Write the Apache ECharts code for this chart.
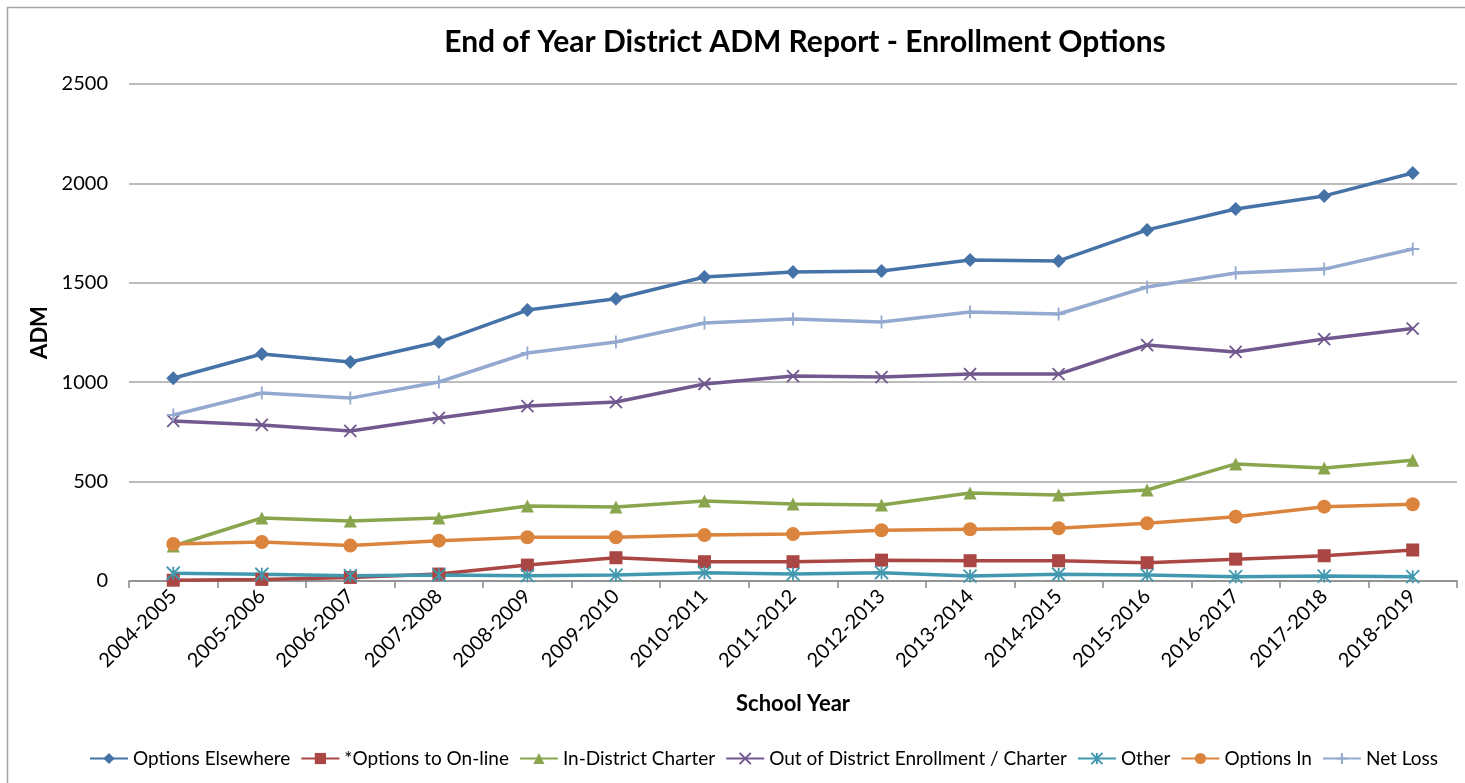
<!DOCTYPE html>
<html>
<head>
<meta charset="utf-8">
<script src="https://cdn.jsdelivr.net/npm/echarts@6/dist/echarts.min.js"></script>
<style>
html,body{margin:0;padding:0;background:#fff;}
#chart{width:1465px;height:783px;}
</style>
</head>
<body>
<div id="chart"></div>
<script>
const categories = ["2004-2005","2005-2006","2006-2007","2007-2008","2008-2009","2009-2010","2010-2011","2011-2012","2012-2013","2013-2014","2014-2015","2015-2016","2016-2017","2017-2018","2018-2019"];
const optionsElsewhere = [1020,1142,1102,1202,1363,1420,1529,1554,1559,1615,1610,1766,1871,1937,2052];
const optionsOnline = [4,8,18,35,80,117,97,97,105,102,102,92,110,127,156];
const inDistrictCharter = [176,317,302,317,377,372,402,387,382,443,433,458,589,568,607];
const outOfDistrict = [805,785,755,820,880,900,991,1031,1026,1041,1041,1187,1152,1217,1270];
const other = [39,34,27,30,27,30,42,35,42,25,34,30,22,25,22];
const optionsIn = [186,196,178,203,220,220,231,236,255,260,265,290,323,374,386];
const netLoss = [835,946,920,1001,1147,1202,1298,1318,1303,1353,1343,1479,1549,1569,1670];
const yTicks = [0,500,1000,1500,2000,2500];

const FONT = 'Lato, "Open Sans", sans-serif';
const crossPath = 'path://M0,0 L10,10 M10,0 L0,10';
const asteriskPath = 'path://M0,0 L10,10 M10,0 L0,10 M5,0 L5,10';
const plusPath = 'path://M5,0 L5,10 M0,5 L10,5';

function mk(name, data, color, symbol, size, stroke){
  const s = {
    name, type:'line', data,
    symbol, symbolSize:size,
    lineStyle:{color, width:3.5},
    itemStyle:{color},
    emphasis:{disabled:true},
    animation:false
  };
  if(stroke){
    s.itemStyle = {color:'none', borderColor:color, borderWidth:stroke};
  }
  return s;
}

const chart = echarts.init(document.getElementById('chart'));
chart.setOption({
  animation:false,
  backgroundColor:'#fff',
  graphic:[{type:'rect',shape:{x:7.5,y:7.5,width:1600,height:800},style:{fill:'none',stroke:'#a6a6a6',lineWidth:1.5},silent:true}],
  title:{text:'End of Year District ADM Report - Enrollment Options',left:800,textAlign:'center',top:22,
    textStyle:{fontFamily:FONT,fontWeight:'bold',fontSize:30,color:'#000'}},
  grid:{left:129,right:8,top:84,bottom:202,containLabel:false},
  legend:{left:84,top:744,width:1420,itemWidth:38,itemHeight:14,itemGap:10,
    textStyle:{fontFamily:FONT,fontSize:19,color:'#000'},
    data:['Options Elsewhere','*Options to On-line','In-District Charter','Out of District Enrollment / Charter','Other','Options In','Net Loss']},
  xAxis:{type:'category',data:categories,boundaryGap:true,
    name:'School Year',nameLocation:'middle',nameGap:112,
    nameTextStyle:{fontFamily:FONT,fontWeight:'bold',fontSize:22,color:'#000'},
    axisLine:{lineStyle:{color:'#868686',width:1.5}},
    axisTick:{show:true,length:7,lineStyle:{color:'#868686',width:1.5}},
    axisLabel:{rotate:45,margin:12,fontFamily:FONT,fontSize:20,color:'#000',interval:0}},
  yAxis:{type:'value',min:yTicks[0],max:yTicks[yTicks.length-1],interval:500,
    name:'ADM',nameLocation:'middle',nameGap:74,nameRotate:90,
    nameTextStyle:{fontFamily:FONT,fontWeight:'bold',fontSize:22,color:'#000'},
    axisLine:{show:false},axisTick:{show:false},
    splitLine:{lineStyle:{color:'#a6a6a6',width:1.5}},
    axisLabel:{margin:21,fontFamily:FONT,fontSize:20,color:'#000',formatter:v=>String(v)}},
  series:[
    mk('Options Elsewhere',optionsElsewhere,'#4572A7','diamond',14),
    mk('*Options to On-line',optionsOnline,'#AA4643','rect',13),
    mk('In-District Charter',inDistrictCharter,'#89A54E','triangle',13),
    mk('Out of District Enrollment / Charter',outOfDistrict,'#71588F',crossPath,12,1.8),
    mk('Other',other,'#4198AF',asteriskPath,13,1.8),
    mk('Options In',optionsIn,'#DB843D','circle',14),
    mk('Net Loss',netLoss,'#93A9CF',plusPath,13,1.8)
  ]
});
</script>
</body>
</html>
